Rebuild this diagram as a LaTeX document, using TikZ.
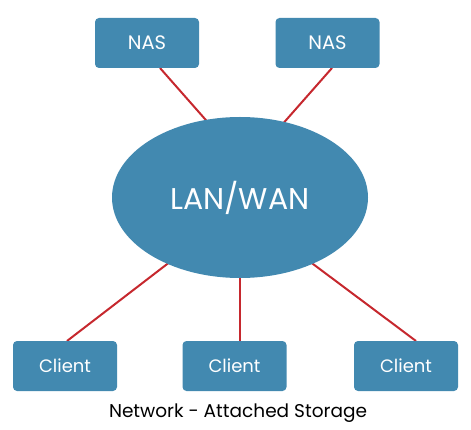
\documentclass[tikz,border=0pt]{standalone}
\usepackage{fontspec}
\setmainfont{Poppins}
\usetikzlibrary{shapes.geometric,backgrounds}
\definecolor{boxblue}{RGB}{66,137,176}
\definecolor{linkred}{RGB}{198,40,46}
\begin{document}
\begin{tikzpicture}[x=1pt,y=-1pt,
  box/.style={rectangle,rounded corners=4pt,fill=boxblue,draw=none,minimum width=104pt,minimum height=50pt,inner sep=0pt,text=white},
  link/.style={draw=linkred,line width=2pt}]
\useasboundingbox (0,0) rectangle (471,430);
\node[ellipse,fill=boxblue,minimum width=256pt,minimum height=161pt,inner sep=0pt,text=white,font=\fontsize{30}{34}\selectfont] (lan) at (240,197.5) {LAN/WAN};
\node[box,font=\fontsize{19.5}{22}\selectfont] (nas1) at (147,43) {NAS};
\node[box,font=\fontsize{19.5}{22}\selectfont] (nas2) at (327.5,43) {NAS};
\node[box,font=\fontsize{18}{22}\selectfont] (c1) at (65,366) {Client};
\node[box,font=\fontsize{18}{22}\selectfont] (c2) at (234.5,366) {Client};
\node[box,font=\fontsize{18}{22}\selectfont] (c3) at (406,366) {Client};
\node[font=\fontsize{18.5}{22}\selectfont] (cap) at (238,413) {Network - Attached Storage};
\coordinate (n1a) at (160,68);
\coordinate (n1b) at (212,127);
\coordinate (n2a) at (332,68);
\coordinate (n2b) at (280,127);
\coordinate (c1a) at (67,341);
\coordinate (c1b) at (175,258);
\coordinate (c2a) at (240,341);
\coordinate (c2b) at (240,270);
\coordinate (c3a) at (416,341);
\coordinate (c3b) at (305,258);
\begin{scope}[on background layer]
\draw[link] (n1a) -- (n1b);
\draw[link] (n2a) -- (n2b);
\draw[link] (c1a) -- (c1b);
\draw[link] (c2a) -- (c2b);
\draw[link] (c3a) -- (c3b);
\end{scope}
\end{tikzpicture}
\end{document}
